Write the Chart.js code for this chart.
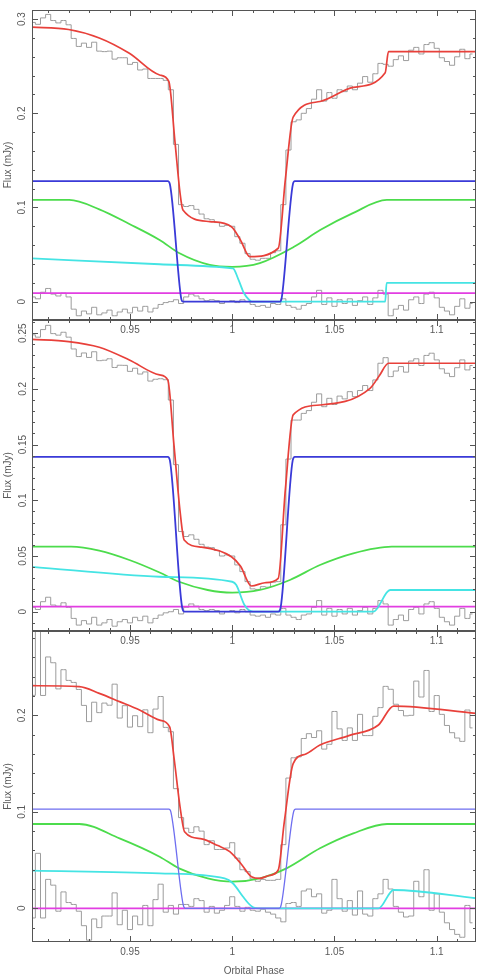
<!DOCTYPE html>
<html>
<head>
<meta charset="utf-8">
<script src="https://cdn.jsdelivr.net/npm/chart.js@4/dist/chart.umd.min.js"></script>
<style>
  html, body { margin: 0; padding: 0; background: #fff; }
  #wrap { position: relative; width: 485px; height: 978px; overflow: hidden; }
  canvas { position: absolute; left: 0; }
</style>
</head>
<body>
<div id="wrap">
  <canvas id="p1" width="485" height="345" style="top:0px"></canvas>
  <canvas id="p2" width="485" height="346" style="top:310px"></canvas>
  <canvas id="p3" width="485" height="357" style="top:621px"></canvas>
</div>
<script>
// Orbital phase bin centres shared by the three light curves
const phaseBins = [0.9025,0.905,0.9075,0.91,0.9125,0.915,0.9175,0.92,0.9225,0.925,0.9275,0.93,0.9325,0.935,0.9375,0.94,0.9425,0.945,0.9475,0.95,0.9525,0.955,0.9575,0.96,0.9625,0.965,0.9675,0.97,0.9725,0.975,0.9775,0.98,0.9825,0.985,0.9875,0.99,0.9925,0.995,0.9975,1.0,1.0025,1.005,1.0075,1.01,1.0125,1.015,1.0175,1.02,1.0225,1.025,1.0275,1.03,1.0325,1.035,1.0375,1.04,1.0425,1.045,1.0475,1.05,1.0525,1.055,1.0575,1.06,1.0625,1.065,1.0675,1.07,1.0725,1.075,1.0775,1.08,1.0825,1.085,1.0875,1.09,1.0925,1.095,1.0975,1.1,1.1025,1.105,1.1075,1.11,1.1125,1.115,1.1175];

const xTicks = [0.95, 1, 1.05, 1.1];

// Panel 1
const p1Flux = [0.2965,0.2945,0.3013,0.305,0.2985,0.296,0.2985,0.294,0.2795,0.271,0.2745,0.270,0.2755,0.266,0.2655,0.266,0.2575,0.259,0.259,0.252,0.254,0.246,0.247,0.237,0.237,0.237,0.235,0.225,0.167,0.103,0.101,0.102,0.098,0.093,0.088,0.087,0.084,0.080,0.081,0.080,0.069,0.062,0.051,0.045,0.044,0.046,0.046,0.052,0.054,0.103,0.161,0.191,0.193,0.200,0.205,0.215,0.225,0.213,0.222,0.216,0.225,0.223,0.229,0.225,0.232,0.239,0.233,0.242,0.253,0.252,0.250,0.257,0.261,0.256,0.267,0.270,0.263,0.273,0.275,0.269,0.259,0.255,0.251,0.260,0.268,0.258,0.263];
const p1Resid = [0.005,0.003,0.010,0.014,0.008,0.006,0.009,0.005,-0.008,-0.015,-0.010,-0.013,-0.006,-0.014,-0.012,-0.009,-0.015,-0.011,-0.008,-0.012,-0.006,-0.010,-0.005,-0.011,-0.007,-0.003,-0.001,0,0.002,-0.002,0.005,0.008,0.006,0.003,0.001,0.002,0.001,-0.002,0,0.001,-0.001,0.002,0,-0.003,-0.005,-0.004,-0.006,-0.002,-0.003,0.003,-0.004,-0.006,-0.008,-0.004,-0.002,0.005,0.012,-0.003,0.004,-0.005,0.002,-0.002,0.003,-0.004,0.001,0.005,-0.003,0.004,0.012,0.008,-0.015,-0.008,-0.004,-0.009,0.002,0.005,-0.002,0.008,0.010,0.004,-0.006,-0.010,-0.014,-0.005,0.003,-0.007,-0.002];
const p1Model = [[0.9015,0.2915],[0.920,0.289],[0.935,0.280],[0.9497,0.2637],[0.9645,0.2407],[0.969,0.234],[0.972,0.170],[0.9745,0.115],[0.9759,0.0973],[0.989,0.085],[0.9996,0.0796],[1.004,0.0655],[1.0086,0.0478],[1.0225,0.0567],[1.026,0.130],[1.0298,0.196],[1.0429,0.2125],[1.0592,0.2276],[1.0748,0.2431],[1.0764,0.2654],[1.1195,0.2654]];
const p1WhiteDwarf = [[0.9015,0.128],[0.9685,0.128],[0.9695,0.125],[0.975,0.004],[0.9759,0],[1.0233,0],[1.0242,0.004],[1.0297,0.125],[1.0306,0.128],[1.1195,0.128]];
const p1Disc = [[0.9015,0.108],[0.9203,0.108],[0.935,0.098],[0.9497,0.0825],[0.9645,0.0655],[0.974,0.0516],[0.989,0.039],[1.0,0.037],[1.0135,0.041],[1.030,0.058],[1.043,0.076],[1.059,0.094],[1.0756,0.108],[1.1195,0.108]];
const p1Spot = [[0.9015,0.046],[0.9645,0.0397],[1.0,0.0354],[1.0006,0.035],[1.0033,0.022],[1.0057,0.0092],[1.0082,0.002],[1.0095,0],[1.0748,0],[1.0755,0.020],[1.1195,0.020]];
const p1Donor = [[0.9015,0.009],[1.1195,0.009]];
const p1YTicks = [0, 0.1, 0.2, 0.3];

// Panel 2
const p2Flux = [0.2485,0.2464,0.2532,0.2570,0.2496,0.2482,0.2508,0.2464,0.2358,0.2290,0.2322,0.2282,0.2333,0.2253,0.2257,0.2270,0.2192,0.2212,0.2211,0.2157,0.2185,0.2133,0.2152,0.2070,0.2086,0.2091,0.2082,0.190,0.132,0.072,0.0675,0.069,0.065,0.0605,0.058,0.0575,0.055,0.050,0.051,0.050,0.042,0.036,0.027,0.0205,0.020,0.0225,0.022,0.0265,0.027,0.078,0.137,0.172,0.172,0.178,0.1805,0.188,0.1955,0.184,0.1915,0.186,0.1935,0.191,0.1975,0.193,0.1985,0.203,0.1985,0.208,0.223,0.228,0.211,0.216,0.220,0.215,0.225,0.227,0.221,0.230,0.232,0.226,0.218,0.214,0.211,0.219,0.226,0.217,0.221];
const p2Resid = [0.004,0.002,0.009,0.013,0.006,0.005,0.008,0.004,-0.006,-0.012,-0.008,-0.011,-0.005,-0.012,-0.010,-0.007,-0.013,-0.009,-0.007,-0.010,-0.005,-0.008,-0.004,-0.010,-0.006,-0.003,-0.001,0,0.002,-0.002,0.004,0.007,0.005,0.002,0.001,0.002,0.001,-0.002,0,0.001,-0.001,0.002,0,-0.003,-0.004,-0.003,-0.005,-0.002,-0.003,0.003,-0.003,-0.005,-0.007,-0.003,-0.002,0.004,0.010,-0.003,0.003,-0.004,0.002,-0.002,0.003,-0.003,0.001,0.004,-0.002,0.003,0.010,0.007,-0.012,-0.007,-0.003,-0.008,0.002,0.004,-0.002,0.007,0.009,0.003,-0.005,-0.009,-0.012,-0.004,0.003,-0.006,-0.002];
const p2Model = [[0.9015,0.2445],[0.920,0.2424],[0.935,0.2373],[0.9497,0.2259],[0.9645,0.2125],[0.9685,0.208],[0.9715,0.150],[0.9745,0.090],[0.9765,0.0644],[0.985,0.058],[0.9996,0.0494],[1.004,0.041],[1.0094,0.0231],[1.016,0.026],[1.0225,0.030],[1.026,0.110],[1.0298,0.1766],[1.0429,0.1855],[1.0674,0.2005],[1.072,0.212],[1.0764,0.223],[1.1195,0.223]];
const p2WhiteDwarf = [[0.9015,0.139],[0.9685,0.139],[0.9695,0.136],[0.9755,0.004],[0.9767,0],[1.0225,0],[1.0237,0.004],[1.0296,0.136],[1.0306,0.139],[1.1195,0.139]];
const p2Disc = [[0.9015,0.0584],[0.9212,0.0584],[0.935,0.0548],[0.9497,0.0464],[0.9645,0.0352],[0.974,0.0269],[0.988,0.0195],[1.0,0.0171],[1.0135,0.0195],[1.0282,0.0285],[1.0429,0.0419],[1.0592,0.0524],[1.078,0.0584],[1.1195,0.0584]];
const p2Spot = [[0.9015,0.0404],[0.9645,0.0314],[1.0,0.0269],[1.002,0.024],[1.006,0.006],[1.0102,0],[1.069,0],[1.0772,0.0195],[1.1195,0.0195]];
const p2Donor = [[0.9015,0.0045],[1.1195,0.0045]];
const p2YTicks = [0, 0.05, 0.1, 0.15, 0.2, 0.25];

// Panel 3
const p3Flux = [0.2207,0.2877,0.2206,0.2605,0.2545,0.2274,0.2473,0.2362,0.2341,0.2268,0.2103,0.1935,0.2136,0.2028,0.2127,0.2105,0.2323,0.1972,0.2100,0.1878,0.1996,0.1883,0.2057,0.1820,0.2065,0.2195,0.1875,0.183,0.124,0.094,0.083,0.0785,0.0845,0.080,0.066,0.070,0.061,0.061,0.0625,0.068,0.052,0.040,0.038,0.0305,0.028,0.030,0.029,0.029,0.030,0.066,0.135,0.156,0.157,0.176,0.181,0.177,0.184,0.165,0.170,0.204,0.186,0.174,0.187,0.174,0.201,0.179,0.179,0.199,0.208,0.230,0.227,0.2115,0.205,0.1995,0.200,0.2355,0.219,0.2465,0.204,0.2205,0.201,0.1895,0.182,0.1765,0.173,0.2055,0.187];
const p3Resid = [-0.010,0.057,-0.010,0.030,0.024,-0.003,0.017,0.006,0.004,-0.003,-0.018,-0.033,-0.011,-0.020,-0.008,-0.008,0.016,-0.017,-0.002,-0.022,-0.008,-0.017,0.003,-0.018,0.009,0.025,-0.004,0.003,-0.006,0.004,0.004,0.002,0.010,0.008,-0.004,0.002,-0.005,-0.002,0.003,0.012,0.002,-0.003,0.001,-0.002,-0.003,-0.001,-0.004,-0.006,-0.010,-0.014,0.005,0.006,0.002,0.018,0.020,0.012,0.015,-0.005,-0.002,0.030,0.010,-0.003,0.008,-0.007,0.018,-0.006,-0.008,0.010,0.015,0.030,0.020,0.002,-0.004,-0.009,-0.008,0.028,0.012,0.040,-0.002,0.015,-0.004,-0.015,-0.022,-0.027,-0.030,0.003,-0.015];
const p3Model = [[0.9015,0.2307],[0.9252,0.2298],[0.935,0.2228],[0.9449,0.2142],[0.9547,0.2055],[0.9645,0.1950],[0.9694,0.188],[0.9716,0.155],[0.9745,0.105],[0.9767,0.0794],[0.985,0.072],[0.993,0.065],[0.9988,0.0587],[1.004,0.047],[1.0094,0.0328],[1.0135,0.0311],[1.018,0.034],[1.0225,0.0397],[1.0255,0.090],[1.0298,0.150],[1.036,0.160],[1.0429,0.1692],[1.057,0.179],[1.0715,0.190],[1.0789,0.2096],[1.1195,0.202]];
const p3WhiteDwarf = [[0.9015,0.1029],[0.969,0.1029],[0.970,0.100],[0.976,0.004],[0.977,0],[1.023,0],[1.024,0.004],[1.030,0.100],[1.031,0.1029],[1.1195,0.1029]];
const p3Disc = [[0.9015,0.0874],[0.9252,0.0874],[0.9449,0.0725],[0.9645,0.0535],[0.974,0.0414],[0.988,0.031],[1.0,0.0276],[1.0135,0.0311],[1.0265,0.0414],[1.0429,0.0622],[1.0592,0.0777],[1.0757,0.0874],[1.1195,0.0874]];
const p3Spot = [[0.9015,0.039],[0.9645,0.0363],[0.9963,0.031],[1.0003,0.026],[1.0053,0.012],[1.008,0.005],[1.0102,0.001],[1.013,0],[1.0715,0],[1.0789,0.019],[1.1195,0.0104]];
const p3Donor = [[0.9015,0],[1.1195,0]];
const p3YTicks = [0, 0.1, 0.2];

const FONT = "'Liberation Sans', Arial, sans-serif";
const TEXT = '#5a5a5a';

// inward PGPLOT-style ticks on all four sides plus the frame
const frameTicks = {
  id: 'frameTicks',
  afterDatasetsDraw(chart, args, opts) {
    const { ctx, chartArea: a, scales: { x, y } } = chart;
    ctx.save();
    ctx.strokeStyle = '#555';
    ctx.lineWidth = 1;
    ctx.beginPath();
    const xStep = 0.01;
    for (let k = Math.ceil(x.min / xStep); k * xStep <= x.max; k++) {
      const len = k % 5 === 0 ? 6 : 3;
      const px = Math.round(x.getPixelForValue(k * xStep)) + 0.5;
      ctx.moveTo(px, a.bottom); ctx.lineTo(px, a.bottom - len);
      ctx.moveTo(px, a.top); ctx.lineTo(px, a.top + len);
    }
    const ratio = Math.round(opts.major / opts.minor);
    for (let k = Math.ceil(y.min / opts.minor); k * opts.minor <= y.max; k++) {
      const len = k % ratio === 0 ? 6 : 3;
      const py = Math.round(y.getPixelForValue(k * opts.minor)) + 0.5;
      ctx.moveTo(a.left, py); ctx.lineTo(a.left + len, py);
      ctx.moveTo(a.right, py); ctx.lineTo(a.right - len, py);
    }
    ctx.stroke();
    ctx.strokeRect(a.left + 0.5, a.top + 0.5, a.right - a.left - 1, a.bottom - a.top - 1);
    ctx.restore();
  }
};

function binned(values) {
  return values.map((v, i) => ({ x: phaseBins[i], y: v }));
}
function curve(pts) {
  return pts.map(p => ({ x: p[0], y: p[1] }));
}

function makePanel(id, p) {
  const lineSet = (pts, color, width, order) => ({
    data: curve(pts), borderColor: color, borderWidth: width, pointRadius: 0,
    cubicInterpolationMode: 'monotone', order: order
  });
  const dataSet = (vals) => ({
    data: binned(vals), borderColor: '#9c9c9c', borderWidth: 1, pointRadius: 0,
    stepped: 'middle', order: 10
  });

  new Chart(document.getElementById(id), {
    type: 'line',
    data: {
      datasets: [
        dataSet(p.flux),
        dataSet(p.resid),
        lineSet(p.donor, '#e23ee2', 1.8, 5),
        lineSet(p.spot, '#45e4e4', 1.8, 4),
        lineSet(p.disc, '#4cdc4c', 1.8, 4),
        lineSet(p.wd, p.wdColor, p.wdWidth, 3),
        lineSet(p.model, '#e8403a', 1.7, 1)
      ]
    },
    options: {
      responsive: false,
      animation: false,
      events: [],
      layout: { padding: { top: 10, right: 9, bottom: 0, left: 0 } },
      plugins: {
        legend: { display: false },
        tooltip: { enabled: false },
        frameTicks: { minor: p.yMinor, major: p.yMajor }
      },
      scales: {
        x: {
          type: 'linear',
          position: 'bottom',
          min: 0.9021,
          max: 1.1192,
          grid: { display: false, drawTicks: false },
          border: { display: false },
          afterBuildTicks: s => { s.ticks = xTicks.map(v => ({ value: v })); },
          afterFit: s => { s.height = p.xHeight; },
          ticks: {
            autoSkip: false, maxRotation: 0, padding: 4.5, color: TEXT,
            font: { family: FONT, size: 10 },
            callback: v => String(v)
          },
          title: {
            display: !!p.xTitle, text: p.xTitle || '', color: TEXT,
            font: { family: FONT, size: 10 }, padding: { top: 0, bottom: 1 }
          }
        },
        y: {
          type: 'linear',
          position: 'left',
          min: p.yMin,
          max: p.yMax,
          grid: { display: false, drawTicks: false },
          border: { display: false },
          afterBuildTicks: s => { s.ticks = p.yTicks.map(v => ({ value: v })); },
          afterFit: s => { s.width = 32; },
          ticks: {
            minRotation: 90, maxRotation: 90, crossAlign: 'center',
            padding: p.yPad, color: TEXT, font: { family: FONT, size: 10 },
            callback: v => String(v)
          },
          title: {
            display: true, text: 'Flux (mJy)', color: TEXT,
            font: { family: FONT, size: 10 }, padding: { top: 2, bottom: 0 }
          }
        }
      }
    },
    plugins: [frameTicks]
  });
}

makePanel('p1', {
  flux: p1Flux, resid: p1Resid, model: p1Model, wd: p1WhiteDwarf, disc: p1Disc,
  spot: p1Spot, donor: p1Donor, yTicks: p1YTicks, wdColor: '#3a3ad8', wdWidth: 1.8,
  yMin: -0.0195, yMax: 0.3097, yMinor: 0.02, yMajor: 0.1, yPad: 2.3, xHeight: 25
});
makePanel('p2', {
  flux: p2Flux, resid: p2Resid, model: p2Model, wd: p2WhiteDwarf, disc: p2Disc,
  spot: p2Spot, donor: p2Donor, yTicks: p2YTicks, wdColor: '#3a3ad8', wdWidth: 1.8,
  yMin: -0.0173, yMax: 0.2618, yMinor: 0.01, yMajor: 0.05, yPad: -0.5, xHeight: 25
});
makePanel('p3', {
  flux: p3Flux, resid: p3Resid, model: p3Model, wd: p3WhiteDwarf, disc: p3Disc,
  spot: p3Spot, donor: p3Donor, yTicks: p3YTicks, wdColor: '#6e6ef0', wdWidth: 1.3,
  yMin: -0.0349, yMax: 0.2874, yMinor: 0.02, yMajor: 0.1, yPad: 2.3, xHeight: 36,
  xTitle: 'Orbital Phase'
});
</script>
</body>
</html>
